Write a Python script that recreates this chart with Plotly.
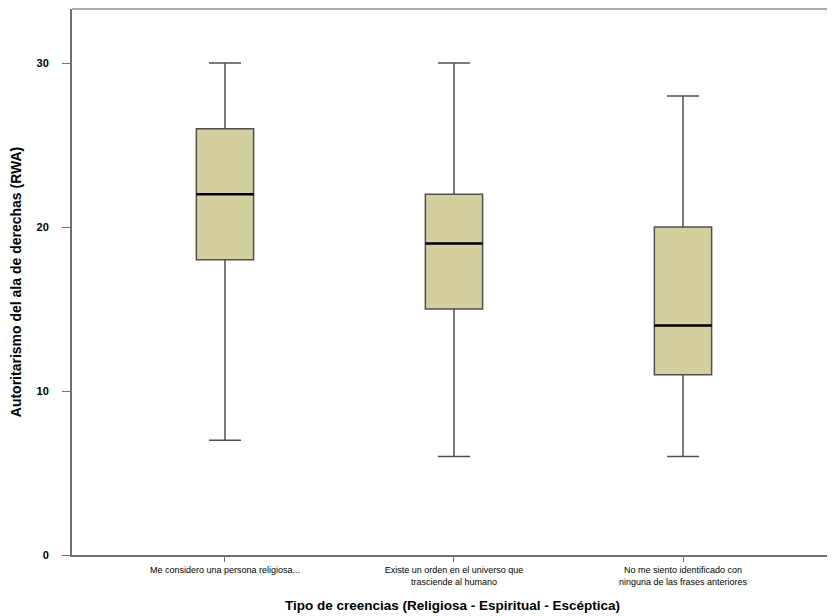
import plotly.graph_objects as go

categories = ["Me considero una persona religiosa...",
              "Existe un orden en el universo que<br>trasciende al humano",
              "No me siento identificado con<br>ninguna de las frases anteriores"]
lower_whisker = [7, 6, 6]
q1 = [18, 15, 11]
median = [22, 19, 14]
q3 = [26, 22, 20]
upper_whisker = [30, 30, 28]
y_ticks = [0, 10, 20, 30]

xpos = list(range(len(categories)))
box_w = 0.25

fig = go.Figure()
fig.add_trace(go.Box(
    x=xpos, lowerfence=lower_whisker, q1=q1, median=median, q3=q3,
    upperfence=upper_whisker, width=box_w, whiskerwidth=0.56,
    fillcolor="#D4CF9E", line=dict(color="#505050", width=1.5),
    boxpoints=False, showlegend=False, hoverinfo="skip"))

for xi, m in zip(xpos, median):
    fig.add_trace(go.Scatter(
        x=[xi - box_w / 2, xi + box_w / 2], y=[m, m], mode="lines",
        line=dict(color="black", width=2.5), showlegend=False, hoverinfo="skip"))

font = "Liberation Sans, Arial, sans-serif"
fig.update_layout(
    width=827, height=608,
    margin=dict(l=64, r=2, t=1, b=61),
    plot_bgcolor="white", paper_bgcolor="white",
    font=dict(family=font, color="black"),
    xaxis=dict(range=[-0.668, 2.655], tickvals=xpos, ticktext=categories,
               tickfont=dict(size=9, family=font), ticks="outside", ticklen=5,
               tickcolor="#707070", showline=True, linecolor="#707070", linewidth=2,
               showgrid=False, zeroline=False,
               title=dict(text="<b>Tipo de creencias (Religiosa - Espiritual - Escéptica)</b>",
                          font=dict(size=13.5), standoff=15)),
    yaxis=dict(range=[0, 33.3], tickvals=y_ticks,
               ticktext=[f"<b>{t}</b>" for t in y_ticks],
               tickfont=dict(size=11), ticks="outside", ticklen=8, tickcolor="#707070",
               ticklabelstandoff=11,
               showline=True, linecolor="#707070", linewidth=2,
               showgrid=False, zeroline=False,
               title=dict(text="<b>Autoritarismo del ala de derechas (RWA)</b>",
                          font=dict(size=14), standoff=12)),
    shapes=[
        dict(type="line", xref="paper", yref="paper", x0=0, x1=1, y0=1, y1=1,
             line=dict(color="#AAAAAA", width=2)),
        dict(type="line", xref="paper", yref="paper", x0=1, x1=1, y0=0, y1=1,
             line=dict(color="#CCCCCC", width=1)),
    ],
)

fig.write_html("out.html")
